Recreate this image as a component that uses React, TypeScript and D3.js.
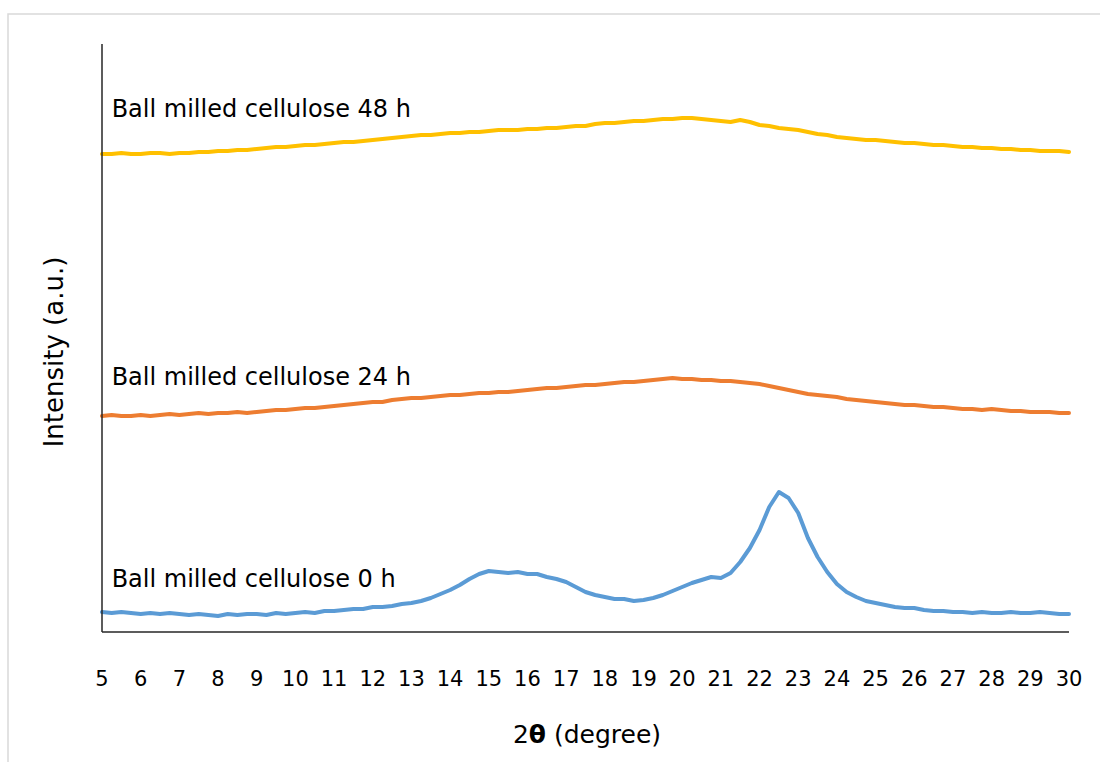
import React from 'react'
import * as d3 from 'd3'

const width = 1100
const height = 762
const plot = { left: 102, right: 1069, top: 44, bottom: 632 }

// 2θ grid: 5 .. 30 in 0.25 steps
const thetaStart = 5
const thetaStep = 0.25
const xTicks = [5, 6, 7, 8, 9, 10, 11, 12, 13, 14, 15, 16, 17, 18, 19, 20, 21, 22, 23, 24, 25, 26, 27, 28, 29, 30]

const seriesNames = ['Ball milled cellulose 0 h', 'Ball milled cellulose 24 h', 'Ball milled cellulose 48 h']
const seriesColors = ['#5B9BD5', '#ED7D31', '#FFC000']

// intensities (a.u., offset stacked as in the figure)
const milled0h = [
  20, 19, 20, 19, 18, 19, 18, 19, 18, 17, 18, 17, 16, 18, 17, 18, 18, 17, 19, 18,
  19, 20, 19, 21, 21, 22, 23, 23, 25, 25, 26, 28, 29, 31, 34, 38, 42, 47, 53, 58,
  61, 60, 59, 60, 58, 58, 55, 53, 50, 45, 40, 37, 35, 33, 33, 31, 32, 34, 37, 41,
  45, 49, 52, 55, 54, 59, 70, 84, 102, 125, 140, 134, 119, 94, 75, 60, 48, 40, 35, 31,
  29, 27, 25, 24, 24, 22, 21, 21, 20, 20, 19, 20, 19, 19, 20, 19, 19, 20, 19, 18,
  18,
]
const milled24h = [
  216, 217, 216, 216, 217, 216, 217, 218, 217, 218, 219, 218, 219, 219, 220, 219, 220, 221, 222, 222,
  223, 224, 224, 225, 226, 227, 228, 229, 230, 230, 232, 233, 234, 234, 235, 236, 237, 237, 238, 239,
  239, 240, 240, 241, 242, 243, 244, 244, 245, 246, 247, 247, 248, 249, 250, 250, 251, 252, 253, 254,
  253, 253, 252, 252, 251, 251, 250, 249, 248, 246, 244, 242, 240, 238, 237, 236, 235, 233, 232, 231,
  230, 229, 228, 227, 227, 226, 225, 225, 224, 223, 223, 222, 223, 222, 221, 221, 220, 220, 220, 219,
  219,
]
const milled48h = [
  478, 478, 479, 478, 478, 479, 479, 478, 479, 479, 480, 480, 481, 481, 482, 482, 483, 484, 485, 485,
  486, 487, 487, 488, 489, 490, 490, 491, 492, 493, 494, 495, 496, 497, 497, 498, 499, 499, 500, 500,
  501, 502, 502, 502, 503, 503, 504, 504, 505, 506, 506, 508, 509, 509, 510, 511, 511, 512, 513, 513,
  514, 514, 513, 512, 511, 510, 512, 510, 507, 506, 504, 503, 502, 500, 498, 497, 495, 494, 493, 492,
  492, 491, 490, 489, 489, 488, 487, 487, 486, 485, 485, 484, 484, 483, 483, 482, 482, 481, 481, 481,
  480,
]

// label anchor (2θ, intensity) for each series name
const labelTheta = [5.25, 5.25, 5.25]
const labelIntensity = [45, 247, 515]

const font = '"DejaVu Sans", "Open Sans", sans-serif'

export default function App() {
  const xScale = d3.scaleLinear().domain([5, 30]).range([plot.left, plot.right])
  const yScale = d3.scaleLinear().domain([0, 588]).range([plot.bottom, plot.top])

  const line = d3.line<number>()
    .x((d, i) => xScale(thetaStart + i * thetaStep))
    .y(d => yScale(d))

  const series = [milled0h, milled24h, milled48h]

  return (
    <svg width={width} height={height} style={{ position: 'absolute', left: 0, top: 0, background: '#fff' }}>
      <rect x={8} y={14} width={1100} height={760} fill='none' stroke='#d9d9d9' strokeWidth={1.5} />

      {series.map((s, i) =>
        <path key={seriesNames[i]} d={line(s) || ''} fill='none' stroke={seriesColors[i]}
          strokeWidth={4} strokeLinejoin='round' strokeLinecap='round' />
      )}

      {/* axes */}
      <line x1={plot.left} x2={plot.left} y1={plot.top} y2={plot.bottom} stroke='#262626' strokeWidth={1.5} />
      <line x1={plot.left} x2={plot.right} y1={plot.bottom} y2={plot.bottom} stroke='#262626' strokeWidth={1.5} />

      {xTicks.map(t =>
        <text key={t} x={xScale(t)} y={686} textAnchor='middle' fontFamily={font} fontSize={21} fill='#000'>{t}</text>
      )}

      {seriesNames.map((n, i) =>
        <text key={n} x={xScale(labelTheta[i])} y={yScale(labelIntensity[i])} fontFamily={font} fontSize={24} fill='#000'>{n}</text>
      )}

      <text x={587} y={743} textAnchor='middle' fontFamily={font} fontSize={25} fill='#000'>
        2<tspan fontWeight='bold'>θ</tspan> (degree)
      </text>
      <text transform='translate(63, 352) rotate(-90)' textAnchor='middle' fontFamily={font} fontSize={26} fill='#000'>
        Intensity (a.u.)
      </text>
    </svg>
  )
}
